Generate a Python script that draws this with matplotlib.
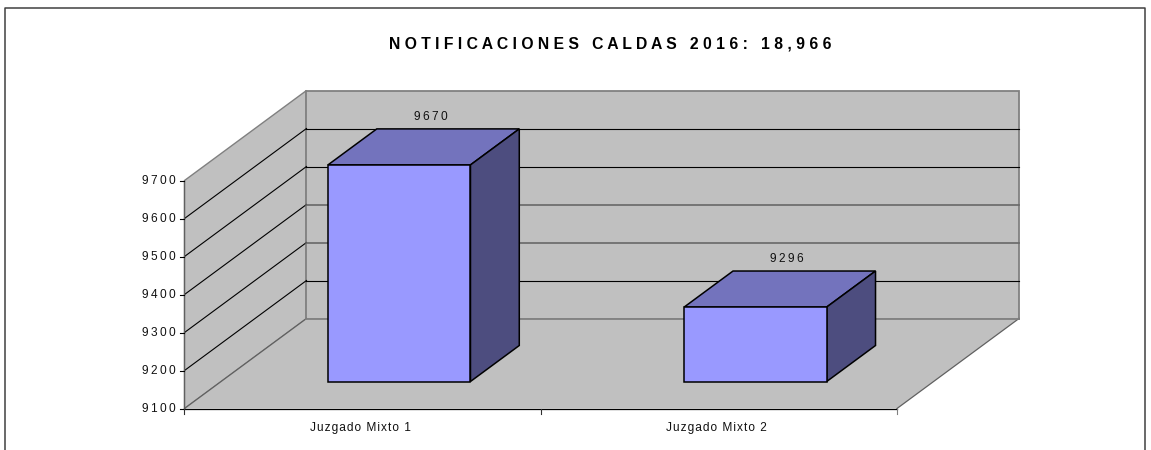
import matplotlib
matplotlib.use('Agg')
import matplotlib.pyplot as plt
from matplotlib.patches import Polygon

plt.rcParams['font.family'] = ['Liberation Sans', 'DejaVu Sans']

# data
categories = ['Juzgado Mixto 1', 'Juzgado Mixto 2']
values = [9670, 9296]
y_ticks = [9100, 9200, 9300, 9400, 9500, 9600, 9700]
title = 'NOTIFICACIONES CALDAS 2016: 18,966'

# colours
WALL = '#c0c0c0'
FRONT = '#9999ff'
TOP = '#7373bd'
SIDE = '#4d4d7f'
EDGE = '#808080'

W, H = 1151, 450

# layout of the fake 3d box, in pixels
X0, Y0 = 184.5, 408.5
PLOT_W = 712.5
PLOT_H = 228.0
DX, DY = 122.0, 90.0


def spaced(s, sep='\u2009'):
    # the original has wide letter spacing
    return sep.join(s)


def project(cat, val, z):
    # cat: 0..n categories, z: 0 front .. 1 back
    x = X0 + PLOT_W * cat / len(categories) + DX * z
    y = Y0 - PLOT_H * (val - y_ticks[0]) / (y_ticks[-1] - y_ticks[0]) - DY * z
    return x, y


def poly(ax, pts, fc, ec, lw=1.0, zorder=1):
    ax.add_patch(Polygon(pts, closed=True, facecolor=fc, edgecolor=ec,
                         linewidth=lw, zorder=zorder, joinstyle='miter'))


fig = plt.figure(figsize=(W / 100, H / 100), dpi=100, facecolor='white')
ax = fig.add_axes([0, 0, 1, 1])
ax.set_xlim(0, W)
ax.set_ylim(H, 0)
ax.axis('off')

# outer frame, bottom edge is cropped in the original
ax.plot([5.5, 5.5, 1145.5, 1145.5], [H, 7.5, 7.5, H], color='#404040', lw=1.1)

n = len(categories)
vmin, vmax = y_ticks[0], y_ticks[-1]

# walls and floor
poly(ax, [project(0, vmin, 0), project(0, vmax, 0), project(0, vmax, 1),
          project(0, vmin, 1)], WALL, EDGE, 1.0)
poly(ax, [project(0, vmin, 1), project(0, vmax, 1), project(n, vmax, 1),
          project(n, vmin, 1)], WALL, EDGE, 1.3)
poly(ax, [project(0, vmin, 0), project(n, vmin, 0), project(n, vmin, 1),
          project(0, vmin, 1)], WALL, 'none', 0)

# floor edges
for pts in ([project(0, vmin, 0), project(0, vmin, 1)],
            [project(n, vmin, 0), project(n, vmin, 1)]):
    ax.plot(*zip(*pts), color='#606060', lw=0.9, zorder=2)
ax.plot(*zip(project(0, vmin, 1), project(n, vmin, 1)), color=EDGE, lw=1.3, zorder=2)

# gridlines on both walls, two of the back ones come out greyer in the original
for t in y_ticks[1:-1]:
    ax.plot(*zip(project(0, t, 0), project(0, t, 1)), color='black', lw=0.8, zorder=2)
    grey = t in (9300, 9400)
    ax.plot(*zip(project(0, t, 1), project(n, t, 1)),
            color='#686868' if grey else 'black', lw=1.2 if grey else 0.8, zorder=2)

# axis lines and ticks
ax.plot(*zip(project(0, vmin, 0), project(n, vmin, 0)), color='black', lw=0.9, zorder=3)
ax.plot(*zip(project(0, vmin, 0), project(0, vmax, 0)), color='#606060', lw=0.9, zorder=3)
for t in y_ticks:
    x, y = project(0, t, 0)
    ax.plot([x - 4, x], [y, y], color='black', lw=0.8, zorder=3)
    ax.text(x - 9, y + 0.5, spaced(str(t)), ha='right', va='center', fontsize=8.6,
            color='#111111')
for i in range(n + 1):
    x, y = project(i, vmin, 0)
    ax.plot([x, x], [y, y + 5], color='#303030' if i < n else EDGE, lw=0.8, zorder=3)

# bars, 40% of the category width and of the depth
for i, (cat, v) in enumerate(zip(categories, values)):
    l, r = i + 0.3, i + 0.7
    z0, z1 = 0.3, 0.7
    poly(ax, [project(l, v, z0), project(r, v, z0), project(r, v, z1), project(l, v, z1)],
         TOP, 'black', 1.1, 4)
    poly(ax, [project(r, vmin, z0), project(r, v, z0), project(r, v, z1), project(r, vmin, z1)],
         SIDE, 'black', 1.1, 4)
    poly(ax, [project(l, vmin, z0), project(r, vmin, z0), project(r, v, z0), project(l, v, z0)],
         FRONT, 'black', 1.1, 5)

    x, y = project(i + 0.5, v, z1)
    ax.text(x - 17, y - 12, spaced(str(v)), ha='center', va='center', fontsize=8.6,
            color='#111111', zorder=6)

    x, y = project(i + 0.5, vmin, 0)
    ax.text(x - 2, y + 19, spaced(cat, '\u200a'), ha='center', va='center', fontsize=8.6,
            color='#111111')

ax.text(610.5, 44, spaced(title, ' '), ha='center', va='center', fontsize=11.3,
        fontweight='bold', color='black')

fig.savefig('out.png', dpi=100, facecolor='white')
